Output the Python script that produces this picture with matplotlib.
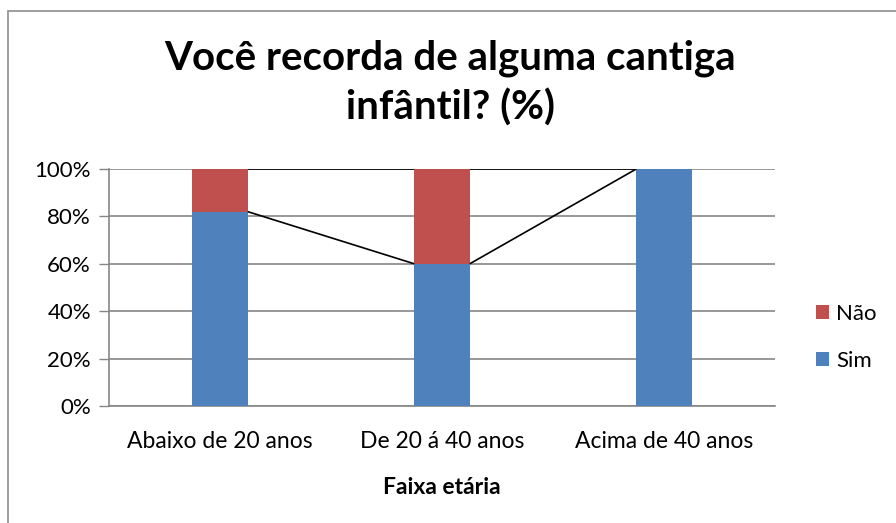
import matplotlib.pyplot as plt
from matplotlib.patches import Rectangle

categories = ['Abaixo de 20 anos', 'De 20 á 40 anos', 'Acima de 40 anos']
sim = [82, 60, 100]
nao = [18, 40, 0]
yticks = [0, 20, 40, 60, 80, 100]

blue = '#4F81BD'
red = '#C0504D'
grid_gray = '#868686'

plt.rcParams['font.family'] = ['Lato', 'DejaVu Sans']

fig = plt.figure(figsize=(8.96, 5.23), dpi=100)
ax = fig.add_axes([109 / 896, 1 - 406 / 523, 666 / 896, 237 / 523])

# outer chart border (Excel chart area)
fig.patches.append(Rectangle((8 / 896, -0.05), 1.2, 1 - 11 / 523 + 0.05,
                             transform=fig.transFigure, fill=False,
                             edgecolor='#8C8C8C', linewidth=1.2))

x = list(range(len(categories)))
w = 0.25
ax.bar(x, sim, width=w, color=blue, label='Sim', zorder=3)
ax.bar(x, nao, width=w, bottom=sim, color=red, label='Não', zorder=3)

# series lines between bar tops
tops_sim = sim
tops_all = [s + n for s, n in zip(sim, nao)]
for i in range(len(x) - 1):
    for tops in (tops_sim, tops_all):
        ax.plot([x[i] + w / 2, x[i + 1] - w / 2], [tops[i], tops[i + 1]],
                color='black', linewidth=1.2, zorder=4, solid_capstyle='butt')

ax.set_xlim(-0.5, 2.5)
ax.set_ylim(0, 100)
ax.set_yticks(yticks)
ax.set_yticklabels([f'{v}%' for v in yticks], fontsize=16)
ax.set_xticks(x)
ax.set_xticklabels(categories, fontsize=16.5)
ax.tick_params(axis='x', length=0, pad=18)
ax.tick_params(axis='y', length=7, color=grid_gray, width=1, pad=6)
ax.yaxis.grid(True, color=grid_gray, linewidth=1.2, zorder=0)
for side in ('top', 'right'):
    ax.spines[side].set_visible(False)
for side in ('left', 'bottom'):
    ax.spines[side].set_color(grid_gray)
    ax.spines[side].set_linewidth(1.2)

ax.set_xlabel('Faixa etária', fontsize=16.5, fontweight='bold', labelpad=18)

fig.text(450 / 896, 1 - 83 / 523, 'Você recorda de alguma cantiga\ninfântil? (%)',
         ha='center', va='center', fontsize=29, fontweight='bold', linespacing=1.35)

handles, labels = ax.get_legend_handles_labels()
ax.legend(handles[::-1], labels[::-1], loc='center left', bbox_to_anchor=(1.0, 0.29),
          frameon=False, fontsize=16, handlelength=0.6, handleheight=0.6,
          handletextpad=0.3, labelspacing=1.2, borderaxespad=1.45)

fig.savefig('out.png', dpi=100)
